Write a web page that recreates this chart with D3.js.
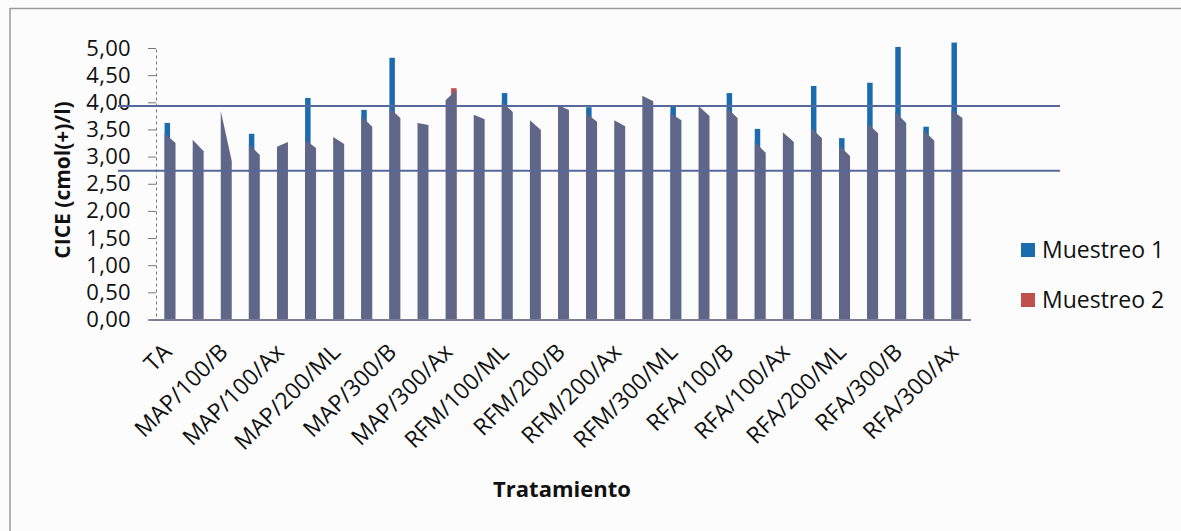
<!DOCTYPE html>
<html>
<head>
<meta charset="utf-8">
<script src="https://cdn.jsdelivr.net/npm/d3@7"></script>
<style>
  html, body { margin: 0; padding: 0; background: #fcfcfc; }
  svg { display: block; font-family: "Open Sans", "Noto Sans", sans-serif; }
</style>
</head>
<body>
<svg id="chart" width="1181" height="531"></svg>
<script>
// ---- data ----
const tickLabels = ["TA", "", "MAP/100/B", "", "MAP/100/Ax", "", "MAP/200/ML", "", "MAP/300/B", "",
  "MAP/300/Ax", "", "RFM/100/ML", "", "RFM/200/B", "", "RFM/200/Ax", "", "RFM/300/ML", "",
  "RFA/100/B", "", "RFA/100/Ax", "", "RFA/200/ML", "", "RFA/300/B", "", "RFA/300/Ax"];
const seriesNames = ["Muestreo 1", "Muestreo 2"];
// visible top of each series (blue / red peaks)
const muestreo1 = [3.62, 3.31, 3.84, 3.42, 3.18, 4.08, 3.36, 3.86, 4.82, 3.62, 4.04, 3.77, 4.17, 3.67, 3.95,
  3.91, 3.67, 4.12, 3.95, 3.93, 4.17, 3.51, 3.45, 4.30, 3.34, 4.36, 5.02, 3.55, 5.10];
const muestreo2 = [3.25, 3.10, 2.92, 3.03, 3.27, 3.16, 3.23, 3.55, 3.71, 3.58, 4.26, 3.69, 3.82, 3.49, 3.86,
  3.64, 3.56, 4.02, 3.67, 3.75, 3.71, 3.07, 3.27, 3.34, 3.01, 3.43, 3.62, 3.29, 3.71];
// grey (scanned) body of each bar pair: left edge top / right edge top
const sombra1 = [3.43, 3.31, 3.84, 3.23, 3.18, 3.31, 3.36, 3.75, 3.90, 3.62, 4.04, 3.77, 4.01, 3.67, 3.95,
  3.80, 3.67, 4.12, 3.80, 3.93, 3.90, 3.27, 3.45, 3.53, 3.21, 3.62, 3.82, 3.49, 3.86];
const sombra2 = [3.25, 3.10, 2.92, 3.03, 3.27, 3.16, 3.23, 3.55, 3.71, 3.58, 4.23, 3.69, 3.82, 3.49, 3.86,
  3.64, 3.56, 4.02, 3.67, 3.75, 3.71, 3.07, 3.27, 3.34, 3.01, 3.43, 3.62, 3.29, 3.71];
const refLines = [3.93, 2.74];
const yTicks = [0, 0.5, 1, 1.5, 2, 2.5, 3, 3.5, 4, 4.5, 5];

// ---- layout ----
const svg = d3.select("#chart");
const plot = { left: 156, right: 971, top: 48, bottom: 319.5 };
const colors = { m1: "#1b6cae", m2: "#c0504d", body: "#5f6688" };

const x = d3.scaleBand().domain(d3.range(tickLabels.length))
  .range([plot.left, plot.right]).paddingInner(0.61).paddingOuter(0.305);
const y = d3.scaleLinear().domain([0, 5]).range([plot.bottom, plot.top]);
const fmt = v => d3.format(".2f")(v).replace(".", ",");

// frame
svg.append("line").attr("x1", 10).attr("x2", 1181).attr("y1", 8.5).attr("y2", 8.5)
  .attr("stroke", "#9a9a9a").attr("stroke-width", 1.5);
svg.append("line").attr("x1", 10).attr("x2", 10).attr("y1", 8).attr("y2", 531)
  .attr("stroke", "#9a9a9a").attr("stroke-width", 1.5);

// y axis
const yAxis = d3.axisLeft(y).tickValues(yTicks).tickFormat(fmt).tickSize(8).tickPadding(17);
const gy = svg.append("g").attr("transform", `translate(${plot.left},0)`).call(yAxis);
gy.select(".domain").attr("stroke", "#777").attr("stroke-dasharray", "3,3");
gy.selectAll(".tick line").attr("stroke", "#777");
gy.selectAll(".tick text").attr("font-size", 22).attr("fill", "#111")
  .attr("font-family", "Open Sans").attr("letter-spacing", "0.3px");

// bars
const idx = d3.range(tickLabels.length);
const g = svg.append("g");
// series peaks behind the grey body
g.selectAll("rect.m1").data(idx.filter(i => muestreo1[i] > sombra1[i])).join("rect")
  .attr("class", "m1")
  .attr("x", i => x(i)).attr("width", x.bandwidth() / 2)
  .attr("y", i => y(muestreo1[i])).attr("height", i => y(0) - y(muestreo1[i]))
  .attr("fill", colors.m1);
g.selectAll("rect.m2").data(idx.filter(i => muestreo2[i] > sombra2[i])).join("rect")
  .attr("class", "m2")
  .attr("x", i => x(i) + x.bandwidth() / 2).attr("width", x.bandwidth() / 2)
  .attr("y", i => y(muestreo2[i])).attr("height", i => y(0) - y(muestreo2[i]))
  .attr("fill", colors.m2);
g.selectAll("path.body").data(idx).join("path")
  .attr("class", "body")
  .attr("d", i => {
    const x0 = x(i), x1 = x(i) + x.bandwidth();
    return `M${x0},${y(0)}L${x0},${y(sombra1[i])}L${x1},${y(sombra2[i])}L${x1},${y(0)}Z`;
  })
  .attr("fill", colors.body);

// x axis line
svg.append("line").attr("x1", 150).attr("x2", plot.right).attr("y1", y(0) + 0.5).attr("y2", y(0) + 0.5)
  .attr("stroke", "#7b7f98").attr("stroke-width", 2);

// reference lines over the bars
svg.selectAll("line.ref").data(refLines).join("line")
  .attr("class", "ref")
  .attr("x1", 118).attr("x2", 1060)
  .attr("y1", d => y(d)).attr("y2", d => y(d))
  .attr("stroke", "#56699a").attr("stroke-width", 2);

// x tick labels
svg.append("g").selectAll("text").data(idx.filter(i => tickLabels[i] !== "")).join("text")
  .attr("transform", i => `translate(${x(i) + x.bandwidth() / 2 + 3},${y(0) + 34}) rotate(-45)`)
  .attr("text-anchor", "end")
  .attr("font-size", 23).attr("fill", "#111")
  .text(i => tickLabels[i]);

// axis titles
svg.append("text").attr("transform", "translate(70,180) rotate(-90)")
  .attr("text-anchor", "middle").attr("font-size", 21).attr("font-weight", "bold").attr("fill", "#111")
  .text("CICE (cmol(+)/l)");
svg.append("text").attr("x", 562).attr("y", 497)
  .attr("text-anchor", "middle").attr("font-size", 22).attr("font-weight", "bold").attr("fill", "#111")
  .text("Tratamiento");

// legend
const leg = svg.append("g").attr("transform", "translate(1021,243)");
seriesNames.forEach((name, k) => {
  const row = leg.append("g").attr("transform", `translate(0,${k * 50})`);
  row.append("rect").attr("width", 14).attr("height", 14).attr("fill", k === 0 ? colors.m1 : colors.m2);
  row.append("text").attr("x", 21).attr("y", 15).attr("font-size", 23).attr("fill", "#111").text(name);
});
</script>
</body>
</html>
